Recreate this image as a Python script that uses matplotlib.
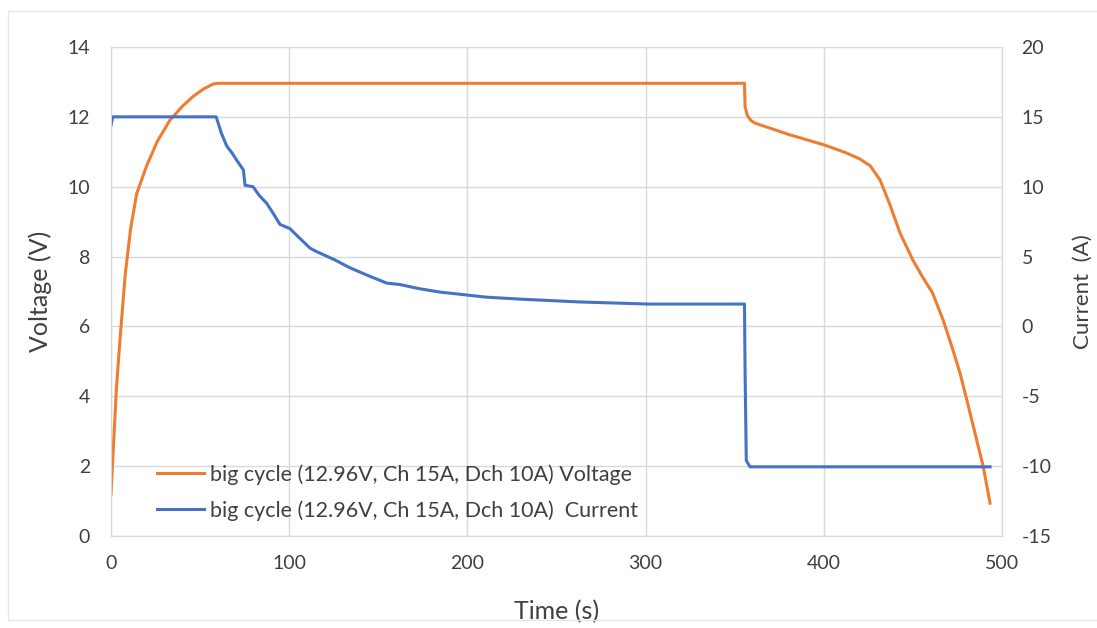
import matplotlib.pyplot as plt

plt.rcParams['font.family'] = ['Lato', 'DejaVu Sans']
plt.rcParams['axes.unicode_minus'] = False

# voltage curve (s, V)
t_v = [0, 1, 3, 5, 8, 11, 14.4, 20, 26, 33, 40, 46, 52, 57.4, 60, 150, 250, 355.5,
       355.8, 357, 359, 361.4, 380, 400, 412, 420, 426, 431.5, 437, 442.8, 450, 455, 461,
       467, 472, 476.4, 480, 484, 489.5, 493.3]
volt = [1.2, 2.2, 4.2, 5.6, 7.5, 8.8, 9.8, 10.6, 11.3, 11.9, 12.3, 12.58, 12.8, 12.94,
        12.96, 12.96, 12.96, 12.96, 12.3, 12.05, 11.9, 11.82, 11.5, 11.2, 10.98, 10.8,
        10.6, 10.2, 9.5, 8.67, 7.9, 7.45, 6.96, 6.18, 5.4, 4.67, 3.95, 3.12, 1.98, 0.94]

# current curve (s, A)
t_i = [0, 1, 3, 59, 62, 65, 68, 70.5, 74.3, 75.2, 79.7, 83, 87.4, 91, 94.8, 100.4, 106,
       111.7, 115.4, 125, 134, 145, 154.7, 162, 173, 185, 196, 210, 230, 263, 302, 355.5,
       355.8, 356.5, 358.6, 400, 450, 493.3]
curr = [14.4, 15, 15, 15, 13.8, 12.9, 12.4, 11.9, 11.2, 10.1, 10.0, 9.4, 8.8, 8.1, 7.3,
        7.0, 6.3, 5.6, 5.35, 4.8, 4.2, 3.6, 3.1, 3.0, 2.7, 2.45, 2.3, 2.1, 1.95, 1.75,
        1.6, 1.6, -3, -9.6, -10.05, -10.05, -10.05, -10.05]

xticks = [0, 100, 200, 300, 400, 500]
vticks = [0, 2, 4, 6, 8, 10, 12, 14]
iticks = [-15, -10, -5, 0, 5, 10, 15, 20]

orange = '#ED7D31'
blue = '#4472C4'
grid_c = '#D9D9D9'
txt_c = '#404040'

fig = plt.figure(figsize=(10.97, 6.28), dpi=100)
ax = fig.add_axes([0.1012, 0.1465, 0.8122, 0.7787])
ax2 = ax.twinx()

l1, = ax.plot(t_v, volt, color=orange, linewidth=2.2,
              label='big cycle (12.96V, Ch 15A, Dch 10A) Voltage')
l2, = ax2.plot(t_i, curr, color=blue, linewidth=2.2,
               label='big cycle (12.96V, Ch 15A, Dch 10A)  Current')

ax.set_xlim(0, 500)
ax.set_ylim(0, 14)
ax2.set_ylim(-15, 20)
ax.set_xticks(xticks)
ax.set_yticks(vticks)
ax2.set_yticks(iticks)

ax.grid(True, color=grid_c, linewidth=1)
ax.set_axisbelow(True)
for a in (ax, ax2):
    for s in a.spines.values():
        s.set_color(grid_c)
    a.tick_params(length=0, labelsize=14, colors=txt_c)
ax.tick_params(axis='x', pad=14)
ax.tick_params(axis='y', pad=15)
ax2.tick_params(axis='y', pad=14)
ax.spines['top'].set_visible(False)
ax2.spines['top'].set_visible(False)

ax.set_xlabel('Time (s)', fontsize=18, color=txt_c)
ax.set_ylabel('Voltage (V)', fontsize=18, color=txt_c)
ax2.set_ylabel('Current  (A)', fontsize=16, color=txt_c)
ax.xaxis.set_label_coords(0.5, -0.13)
ax.yaxis.set_label_coords(-0.066, 0.5)
ax2.yaxis.set_label_coords(1.079, 0.5)

leg = ax2.legend(handles=[l1, l2], loc='center left', bbox_to_anchor=(0.042, 0.089),
                 borderaxespad=0, frameon=False, fontsize=15.5, handlelength=2.2,
                 handletextpad=0.25, labelspacing=0.7)
for t in leg.get_texts():
    t.set_color(txt_c)

fig.patches.append(plt.Rectangle((0.0073, 0.0127), 1.0, 0.97, transform=fig.transFigure,
                                 fill=False, edgecolor='#E6E6E6', linewidth=1))

plt.savefig('out.png', dpi=100)
